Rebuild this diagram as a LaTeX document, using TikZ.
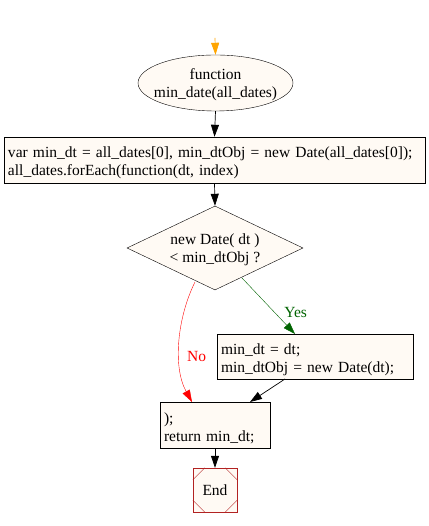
\documentclass[tikz,border=0pt]{standalone}
\usepackage{fontspec}
\setmainfont{Liberation Serif}
\usetikzlibrary{shapes.geometric,arrows.meta}
\definecolor{boxfill}{RGB}{255,250,244}
\definecolor{endred}{RGB}{178,34,34}
\definecolor{yesgreen}{RGB}{0,100,0}
\definecolor{startorange}{RGB}{255,165,0}
\tikzset{
  x=1pt,y=1pt,
  every node/.style={font=\fontsize{15.5}{18}\selectfont},
  flowbox/.style={draw=black,fill=boxfill,rectangle,inner sep=0pt,anchor=center},
  boxtext/.style={inner sep=0pt,align=left,anchor=center},
  flowarrow/.style={-{Triangle[length=12pt,width=8pt]},line width=0.7pt},
}
\begin{document}
\begin{tikzpicture}
\useasboundingbox (0,0) rectangle (428,526);
\fill[white] (0,0) rectangle (428,526);
\coordinate (start) at (215,488);
\node[ellipse,draw=black,fill=boxfill,minimum width=155pt,minimum height=56pt,inner sep=0pt] (fn) at (215.5,443) {};
\node[align=center,inner sep=0pt] (fntext) at ([yshift=-2pt]fn.center) {function\\min\_date(all\_dates)};
\node[flowbox,minimum width=421pt,minimum height=46pt] (init) at (214.5,366) {};
\node[boxtext,text width=413pt] (inittext) at ([yshift=-3pt]init.center) {var min\_dt = all\_dates[0], min\_dtObj = new Date(all\_dates[0]);\\all\_dates.forEach(function(dt, index)};
\node[diamond,draw=black,fill=boxfill,minimum width=176pt,minimum height=84pt,inner sep=0pt,shape aspect=2.1] (cond) at (215,278) {};
\node[align=center,inner sep=0pt] (condtext) at ([yshift=-2pt]cond.center) {new Date( dt )\\{<} min\_dtObj ?};
\node[flowbox,minimum width=196pt,minimum height=45pt] (upd) at (315,169.5) {};
\node[boxtext,text width=188pt] (updtext) at ([yshift=-3pt]upd.center) {min\_dt = dt;\\min\_dtObj = new Date(dt);};
\node[flowbox,minimum width=110pt,minimum height=46pt] (ret) at (215,101) {};
\node[boxtext,text width=102pt] (rettext) at ([yshift=-3pt]ret.center) {);\\return min\_dt;};
\node[draw=endred,fill=boxfill,rectangle,minimum width=44pt,minimum height=44pt,inner sep=0pt] (end) at (215,36) {End};
\draw[endred] ([yshift=-12pt]end.north west) -- ([xshift=12pt]end.north west);
\draw[endred] ([yshift=-12pt]end.north east) -- ([xshift=-12pt]end.north east);
\draw[endred] ([yshift=12pt]end.south west) -- ([xshift=12pt]end.south west);
\draw[endred] ([yshift=12pt]end.south east) -- ([xshift=-12pt]end.south east);
\draw[flowarrow,startorange] (start) -- (fn.north);
\draw[flowarrow] (fn.south) -- (init.north);
\draw[flowarrow] (init.south) -- (cond.north);
\draw[flowarrow,yesgreen,line width=0.4pt] (242,248) -- (295,192) node[pos=0.62,right=6pt] (yes) {Yes};
\draw[flowarrow,red,line width=0.4pt] (195,244) .. controls (178,210) and (172,160) .. (192,124) node[pos=0.62,right=4pt] (no) {No};
\draw[flowarrow] (285,147) -- (250,124);
\draw[flowarrow] (ret.south) -- (end.north);
\end{tikzpicture}
\end{document}
